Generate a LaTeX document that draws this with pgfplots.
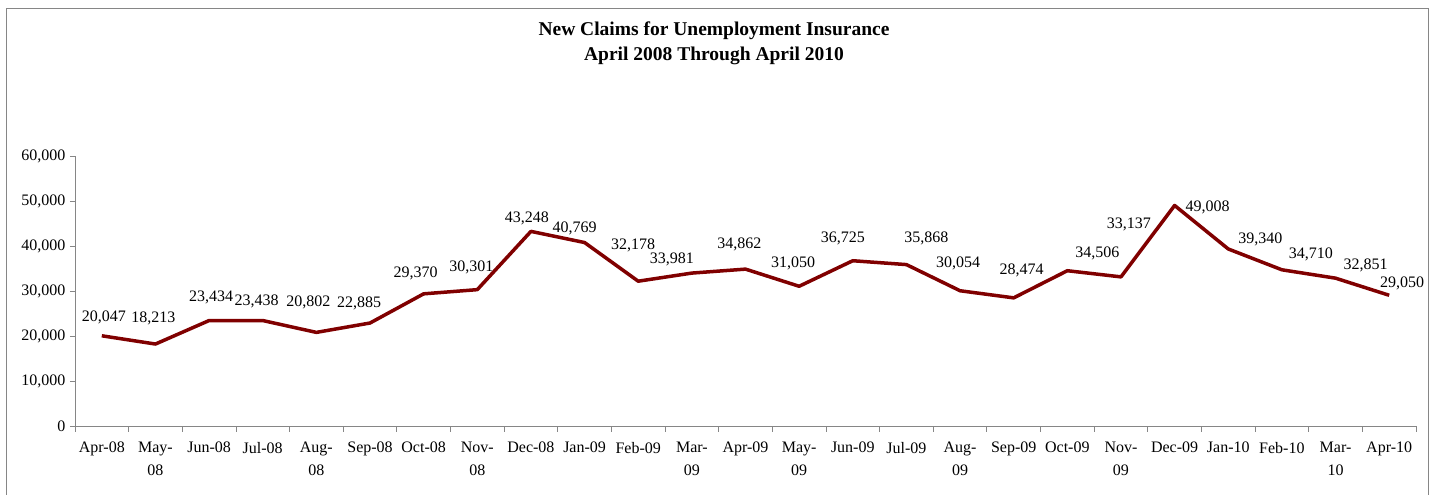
\documentclass[border=0pt]{standalone}
\usepackage{fontspec}
\setmainfont{Liberation Serif}
\usepackage{pgfplots}
\pgfplotsset{compat=1.18}
\usepackage{pgfplotstable}
\definecolor{linered}{RGB}{128,0,0}
\definecolor{axgray}{RGB}{134,134,134}
\pgfplotstableread{
i v dx dy
0 20047 2 18
1 18213 -2 26
2 23434 2 23
3 23438 -6 19
4 20802 -8 30
5 22885 -11 20
6 29370 -8 20
7 30301 -6 22
8 43248 -4 13
9 40769 -10 14
10 32178 -5 36
11 33981 -20 14
12 34862 -6 25
13 31050 -6 23
14 36725 -10 22
15 35868 20 26
16 30054 -2 27
17 28474 8 27
18 34506 30 17
19 33137 8 52
20 49008 33 -2
21 39340 32 10
22 34710 29 15
23 32851 30 13
24 29050 13 12
}\datatable
\begin{document}
\begin{tikzpicture}
\useasboundingbox (0,0) rectangle (1435pt,495pt);
\draw[axgray, line width=0.8pt] (6pt,-2pt) rectangle (1428pt,487pt);
\node[font=\fontsize{19.5}{25}\selectfont\bfseries, align=center] at (714pt,452pt) {New Claims for Unemployment Insurance\\April 2008 Through April 2010};
\begin{axis}[
  at={(75pt,69pt)}, anchor=south west,
  scale only axis, width=1341pt, height=270pt,
  xmin=-0.5, xmax=24.5, ymin=0, ymax=60000,
  axis lines*=left,
  axis line style={axgray, line width=0.8pt},
  every tick/.style={axgray, line width=0.8pt},
  tick align=outside,
  xtick={0,...,24},
  xticklabels={Apr-08,{May-\\08},Jun-08,Jul-08,{Aug-\\08},Sep-08,Oct-08,{Nov-\\08},Dec-08,Jan-09,Feb-09,{Mar-\\09},Apr-09,{May-\\09},Jun-09,Jul-09,{Aug-\\09},Sep-09,Oct-09,{Nov-\\09},Dec-09,Jan-10,Feb-10,{Mar-\\10},Apr-10},
  major x tick style={draw=none},
  minor xtick={-0.5,0.5,...,24.5},
  minor tick length=6pt,
  major tick length=5pt,
  ytick={0,10000,...,60000},
  scaled y ticks=false,
  /pgf/number format/fixed,
  /pgf/number format/1000 sep={,},
  /pgf/number format/assume math mode=true,
  ticklabel style={font=\fontsize{16}{23}\selectfont, text=black},
  xticklabel style={align=center, inner sep=2pt, yshift=-9pt},
  yticklabel style={xshift=-1pt},
  clip=false,
]
\addplot[linered, line width=3.5pt, no marks, line join=round,
  nodes near coords={\pgfmathprintnumber[fixed,1000 sep={,},assume math mode=true]{\pgfplotspointmeta}},
  visualization depends on={\thisrow{dx} \as \dx},
  visualization depends on={\thisrow{dy} \as \dy},
  every node near coord/.append style={anchor=center, text=black, font=\fontsize{16}{18}\selectfont, xshift=\dx pt, yshift=\dy pt},
] table[x=i, y=v] {\datatable};
\end{axis}
\end{tikzpicture}
\end{document}
